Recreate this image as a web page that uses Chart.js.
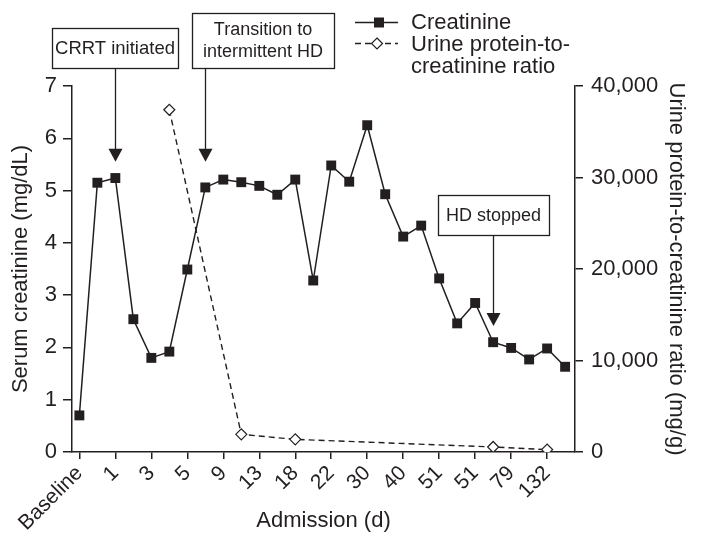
<!DOCTYPE html>
<html>
<head>
<meta charset="utf-8">
<script src="https://cdn.jsdelivr.net/npm/chart.js@4/dist/chart.umd.min.js"></script>
<style>
  html, body { margin: 0; padding: 0; background: #fff; }
  #wrap { width: 701px; height: 548px; position: relative; }
</style>
</head>
<body>
<div id="wrap"><canvas id="chart"></canvas></div>
<script>
// ---- data ----
// x ticks are printed on every other measurement
const tickLabels = ['Baseline', '1', '3', '5', '9', '13', '18', '22', '30', '40', '51', '51', '79', '132'];
// serum creatinine, mg/dL, one value per measurement (28)
const creatinine = [0.70, 5.15, 5.24, 2.54, 1.80, 1.92, 3.49, 5.06, 5.21, 5.16,
                    5.09, 4.92, 5.21, 3.28, 5.48, 5.17, 6.25, 4.93, 4.12, 4.33,
                    3.32, 2.46, 2.85, 2.10, 1.99, 1.77, 1.98, 1.63];
// urine protein-to-creatinine ratio, mg/g, only measured on some days
const upcrIndex = [5, 9, 12, 23, 26];
const upcrValues = [37400, 1930, 1380, 550, 260];

// events marked on the plot
const eventIndex = [2, 7, 23];
const eventTip = [5.55, 5.55, 2.41];
const eventText = [['CRRT initiated'], ['Transition to', 'intermittent HD'], ['HD stopped']];

const INK = '#231f20';
const FONT = '"Liberation Sans", Arial, Helvetica, sans-serif';

// box placement for each event (pixels)
const eventBox = [
  { left: 52, right: 178, top: 28, bottom: 68, size: 18.5 },
  { left: 192, right: 334, top: 13, bottom: 68, size: 18 },
  { left: 438, right: 549, top: 195, bottom: 235, size: 18 }
];

const annotPlugin = {
  id: 'annot',
  afterDraw(chart) {
    const { ctx, scales } = chart;
    const x = scales.x, y = scales.y;
    ctx.save();
    ctx.strokeStyle = INK;
    ctx.fillStyle = INK;
    ctx.lineWidth = 1.3;

    eventIndex.forEach((idx, k) => {
      const b = eventBox[k];
      const px = Math.round(x.getPixelForValue(idx)) + 0.5;
      const tip = y.getPixelForValue(eventTip[k]);
      // box
      ctx.fillStyle = '#fff';
      ctx.fillRect(b.left, b.top, b.right - b.left, b.bottom - b.top);
      ctx.strokeRect(b.left + 0.5, b.top + 0.5, b.right - b.left, b.bottom - b.top);
      // text
      ctx.fillStyle = INK;
      ctx.font = b.size + 'px ' + FONT;
      ctx.textAlign = 'center';
      ctx.textBaseline = 'middle';
      const lines = eventText[k];
      const cx = (b.left + b.right) / 2, cy = (b.top + b.bottom) / 2;
      const lh = 22;
      lines.forEach((t, i) => {
        ctx.fillText(t, cx, cy + (i - (lines.length - 1) / 2) * lh + 1);
      });
      // arrow
      ctx.beginPath();
      ctx.moveTo(px, b.bottom + 0.5);
      ctx.lineTo(px, tip - 12);
      ctx.stroke();
      ctx.beginPath();
      ctx.moveTo(px - 7, tip - 13);
      ctx.lineTo(px + 7, tip - 13);
      ctx.lineTo(px, tip);
      ctx.closePath();
      ctx.fill();
    });

    // legend
    ctx.font = '22px ' + FONT;
    ctx.textAlign = 'left';
    ctx.textBaseline = 'middle';
    ctx.lineWidth = 1.5;
    // creatinine
    ctx.beginPath();
    ctx.moveTo(355, 22.5);
    ctx.lineTo(398, 22.5);
    ctx.stroke();
    ctx.fillRect(374, 17.5, 10, 10);
    ctx.fillText('Creatinine', 411, 23);
    // urine ratio
    ctx.setLineDash([6, 4]);
    ctx.beginPath();
    ctx.moveTo(355, 43.5);
    ctx.lineTo(398, 43.5);
    ctx.stroke();
    ctx.setLineDash([]);
    ctx.lineWidth = 1.2;
    ctx.beginPath();
    ctx.moveTo(377, 38);
    ctx.lineTo(382.5, 43.5);
    ctx.lineTo(377, 49);
    ctx.lineTo(371.5, 43.5);
    ctx.closePath();
    ctx.fillStyle = '#fff';
    ctx.fill();
    ctx.stroke();
    ctx.fillStyle = INK;
    ctx.fillText('Urine protein-to-', 411, 45);
    ctx.fillText('creatinine ratio', 411, 67);
    ctx.restore();
  }
};

new Chart(document.getElementById('chart'), {
  type: 'line',
  data: {
    datasets: [
      {
        label: 'Creatinine',
        data: creatinine.map((v, i) => ({ x: i, y: v })),
        yAxisID: 'y',
        borderColor: INK,
        borderWidth: 1.5,
        pointStyle: 'rect',
        pointRadius: 7,
        pointBackgroundColor: INK,
        pointBorderWidth: 0,
        order: 1
      },
      {
        label: 'Urine protein-to-creatinine ratio',
        data: upcrIndex.map((idx, i) => ({ x: idx, y: upcrValues[i] })),
        yAxisID: 'y2',
        borderColor: INK,
        borderWidth: 1.4,
        borderDash: [6, 4],
        pointStyle: 'rectRot',
        pointRadius: 5.5,
        pointBackgroundColor: '#fff',
        pointBorderColor: INK,
        pointBorderWidth: 1.2,
        order: 2
      }
    ]
  },
  options: {
    responsive: true,
    maintainAspectRatio: false,
    animation: false,
    layout: { padding: { top: 86, left: 0, right: 0, bottom: 0 } },
    plugins: { legend: { display: false }, tooltip: { enabled: false } },
    scales: {
      x: {
        type: 'linear',
        min: -0.41,
        max: 27.55,
        afterBuildTicks: s => { s.ticks = tickLabels.map((_, i) => ({ value: i * 2 })); },
        afterFit: s => { s.height = 96; },
        border: { display: true, color: INK, width: 1.5 },
        grid: { drawOnChartArea: false, color: INK, tickLength: 7, lineWidth: 1.5 },
        ticks: {
          autoSkip: false,
          minRotation: 45,
          maxRotation: 45,
          padding: 2,
          color: INK,
          font: { size: 21, family: FONT },
          callback: v => tickLabels[v / 2]
        },
        title: {
          display: true,
          text: 'Admission (d)',
          color: INK,
          font: { size: 22, family: FONT },
          padding: { top: 0, bottom: 14 }
        }
      },
      y: {
        position: 'left',
        min: 0,
        max: 7,
        afterFit: s => { s.width = 72; },
        border: { display: true, color: INK, width: 1.5 },
        grid: { drawOnChartArea: false, color: INK, tickLength: 9, lineWidth: 1.5 },
        ticks: { stepSize: 1, padding: 6, color: INK, font: { size: 22, family: FONT } },
        title: {
          display: true,
          text: 'Serum creatinine (mg/dL)',
          color: INK,
          font: { size: 22, family: FONT },
          padding: { top: 8, bottom: 0 }
        }
      },
      y2: {
        position: 'right',
        min: 0,
        max: 40000,
        afterFit: s => { s.width = 126; },
        border: { display: true, color: INK, width: 1.5 },
        grid: { drawOnChartArea: false, color: INK, tickLength: 8, lineWidth: 1.5 },
        ticks: {
          stepSize: 10000,
          padding: 8,
          color: INK,
          font: { size: 22, family: FONT },
          callback: v => v.toLocaleString('en-US')
        },
        title: {
          display: true,
          text: 'Urine protein-to-creatinine ratio (mg/g)',
          color: INK,
          font: { size: 22, family: FONT },
          padding: { top: 12, bottom: 0 }
        }
      }
    }
  },
  plugins: [annotPlugin]
});
</script>
</body>
</html>
